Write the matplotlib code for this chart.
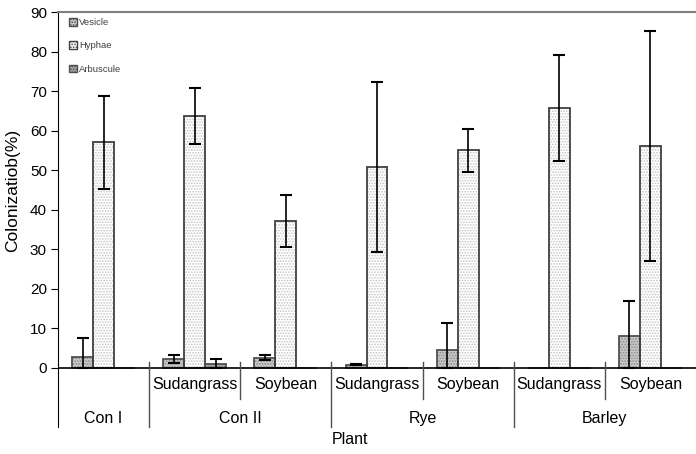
import numpy as np
import matplotlib
matplotlib.use("Agg")
import matplotlib.pyplot as plt

plt.rcParams['font.family'] = ['Liberation Sans', 'DejaVu Sans']
plt.rcParams['hatch.linewidth'] = 0.8

# -----------------------------
# Data
# -----------------------------
groups = ['Con I', 'Con II', 'Rye', 'Barley']
group_span = [(0, 0), (1, 2), (3, 4), (5, 6)]
subs = ['', 'Sudangrass', 'Soybean', 'Sudangrass', 'Soybean', 'Sudangrass', 'Soybean']

vesicle = [2.8, 2.2, 2.5, 0.8, 4.5, 0.0, 7.9]
vesicle_err = [4.8, 0.95, 0.6, 0.2, 6.9, 0.0, 8.9]
hyphae = [57.0, 63.6, 37.2, 50.8, 55.0, 65.7, 56.1]
hyphae_err = [11.8, 7.1, 6.6, 21.6, 5.4, 13.4, 29.2]
arbuscule = [0.0, 0.9, 0.0, 0.0, 0.0, 0.0, 0.0]
arbuscule_err = [0.0, 1.2, 0.0, 0.0, 0.0, 0.0, 0.0]

series = [
    ('Vesicle', vesicle, vesicle_err, '#c8c8c8', '#8a8a8a', '#505050', -1),
    ('Hyphae', hyphae, hyphae_err, 'white', '#c4c4c4', '#404040', 0),
    ('Arbuscule', arbuscule, arbuscule_err, '#a8a8a8', '#707070', '#505050', 1),
]

# -----------------------------
# Figure
# -----------------------------
fig = plt.figure(figsize=(6.96, 4.54), dpi=100)
ax = fig.add_axes([58/696, 1-427/454, 1-58/696, (427-12)/454])

x = np.arange(len(subs))
w = 0.23

for name, v, e, fc, hc, ec, k in series:
    v = np.asarray(v)
    e = np.asarray(e)
    xs = x + k * w
    # fill + dot pattern, then outline on top
    ax.bar(xs, v, w, color=fc, edgecolor=hc, linewidth=0, hatch='......', zorder=2)
    ax.bar(xs, v, w, fill=False, edgecolor=ec, linewidth=1.3, zorder=2.5)
    # legend proxy
    ax.bar([0], [0], 0, color=fc, edgecolor=ec, linewidth=1, hatch='......', label=name)
    m = e > 0
    ax.errorbar(xs[m], v[m], yerr=[np.minimum(v, e)[m], e[m]], fmt='none',
                ecolor='black', elinewidth=1.2, capsize=4.5, capthick=1.5, zorder=3)

ax.set_xlim(-0.5, len(subs) - 0.5)
ax.set_ylim(-15, 90)
ax.set_yticks(range(0, 91, 10))
ax.tick_params(axis='y', labelsize=11, length=5, direction='out', pad=3)
ax.set_xticks([])
ax.set_ylabel('Colonizatiob(%)', fontsize=12.5)
ax.yaxis.set_label_coords(-0.06, 0.571)

ax.spines['right'].set_visible(False)
ax.spines['bottom'].set_visible(False)
ax.spines['top'].set_color('#808080')
ax.spines['top'].set_linewidth(1.5)
ax.axhline(0, color='black', linewidth=1.2, zorder=4)

# category labels below the zero line
for i, s in enumerate(subs):
    if s:
        ax.text(i, -4.2, s, ha='center', va='center', fontsize=11.5)
for g, (a, b) in zip(groups, group_span):
    ax.text((a + b) / 2, -12.8, g, ha='center', va='center', fontsize=11.5)
for i in range(1, len(subs)):
    bottom = -7.8 if subs[i] == 'Soybean' else -15
    ax.plot([i - 0.5, i - 0.5], [1.5, bottom], color='#505050', linewidth=1.0,
            clip_on=False, zorder=4)

fig.text(350/696, 1-440/454, 'Plant', ha='center', va='center', fontsize=11.5)

leg = ax.legend(loc='upper left', bbox_to_anchor=(0.012, 0.995), frameon=False,
                fontsize=6.8, handlelength=0.8, handleheight=0.9, handletextpad=0.2,
                labelspacing=1.5, borderaxespad=0)
for t in leg.get_texts():
    t.set_color('#404040')

fig.savefig('out.png', dpi=100)
